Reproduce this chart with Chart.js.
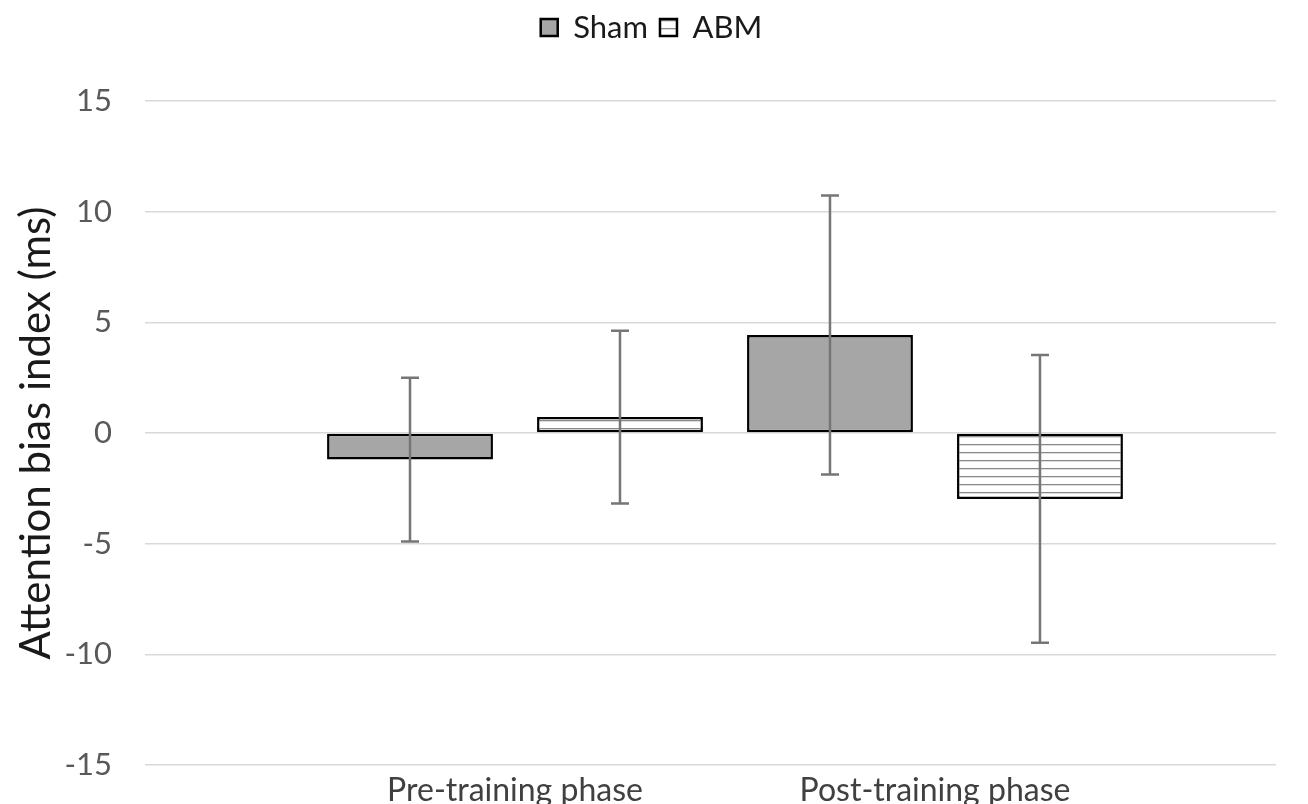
<!DOCTYPE html>
<html><head><meta charset="utf-8">
<script src="https://cdn.jsdelivr.net/npm/chart.js@4/dist/chart.umd.min.js"></script>
<style>html,body{margin:0;padding:0;background:#fff}#wrap{width:1308px;height:804px}</style>
</head><body><div id="wrap"><canvas id="c" width="1308" height="804"></canvas></div>
<script>
const categories = ['Pre-training phase', 'Post-training phase'];
const categoryPositions = [1, 2];
const shamMeans = [-1.2, 4.43];
const shamErrors = [3.7, 6.3];
const abmMeans = [0.72, -2.98];
const abmErrors = [3.9, 6.5];
const yTicks = [-15, -10, -5, 0, 5, 10, 15];

const FONT = 'Lato';

function hatchPattern() {
  const p = document.createElement('canvas');
  p.width = 8; p.height = 8;
  const g = p.getContext('2d');
  g.fillStyle = '#ffffff'; g.fillRect(0, 0, 8, 8);
  g.fillStyle = '#8a8a8a'; g.fillRect(0, 4, 8, 1.3);
  return g.createPattern(p, 'repeat');
}

const errorBarPlugin = {
  id: 'errorBars',
  afterDatasetsDraw(chart) {
    const y = chart.scales.y;
    const c = chart.ctx;
    c.save();
    c.strokeStyle = '#767676';
    c.lineWidth = 2.5;
    chart.data.datasets.forEach((ds, di) => {
      const meta = chart.getDatasetMeta(di);
      meta.data.forEach((bar, i) => {
        const m = ds.data[i].y, e = ds.errors[i];
        const t = y.getPixelForValue(m + e), b = y.getPixelForValue(m - e);
        const x = bar.x;
        c.beginPath();
        c.moveTo(x, t); c.lineTo(x, b);
        c.moveTo(x - 9, t); c.lineTo(x + 9, t);
        c.moveTo(x - 9, b); c.lineTo(x + 9, b);
        c.stroke();
      });
    });
    c.restore();
  }
};

const legendPlugin = {
  id: 'legendAdjust',
  beforeLayout(chart) {
    const lg = chart.legend;
    if (lg && !lg._patched) {
      const f = lg.fit;
      lg.fit = function () { f.call(this); this.height = 101; };
      const d = lg.draw;
      lg.draw = function () {
        const c = this.ctx;
        c.save(); c.translate(8, 0); d.apply(this, arguments); c.restore();
      };
      lg._patched = true;
    }
  }
};

const ctx = document.getElementById('c').getContext('2d');
new Chart(ctx, {
  type: 'bar',
  data: {
    datasets: [
      {
        label: 'Sham',
        data: categoryPositions.map((x, i) => ({ x, y: shamMeans[i] })),
        errors: shamErrors,
        backgroundColor: '#a6a6a6',
        borderColor: '#000000',
        borderWidth: 2.5,
        borderSkipped: false,
        categoryPercentage: 1,
        barPercentage: 0.79
      },
      {
        label: 'ABM',
        data: categoryPositions.map((x, i) => ({ x, y: abmMeans[i] })),
        errors: abmErrors,
        backgroundColor: hatchPattern(),
        borderColor: '#000000',
        borderWidth: 2.5,
        borderSkipped: false,
        categoryPercentage: 1,
        barPercentage: 0.79
      }
    ]
  },
  options: {
    responsive: false,
    animation: false,
    layout: { padding: { left: 11, right: 32, top: 0, bottom: 0 } },
    scales: {
      x: {
        type: 'linear',
        offset: false,
        bounds: 'data',
        min: 0.119,
        max: 2.812,
        afterBuildTicks: s => { s.ticks = categoryPositions.map(v => ({ value: v })); },
        afterFit: s => { s.height = 39; },
        ticks: {
          autoSkip: false,
          maxRotation: 0,
          padding: -2,
          color: '#404040',
          font: { family: FONT, size: 32 },
          callback: v => categories[categoryPositions.indexOf(v)]
        },
        grid: { display: false },
        border: { display: false }
      },
      y: {
        min: -15,
        max: 15,
        afterBuildTicks: s => { s.ticks = yTicks.map(v => ({ value: v })); },
        afterFit: s => { s.width = 134; },
        ticks: {
          padding: 3,
          color: '#595959',
          font: { family: FONT, size: 31 }
        },
        grid: { color: '#d9d9d9', lineWidth: 1.5, drawTicks: true, tickLength: 30, tickColor: 'rgba(0,0,0,0)' },
        border: { display: false },
        title: {
          display: true,
          text: 'Attention bias index (ms)',
          color: '#1a1a1a',
          padding: 0,
          font: { family: FONT, size: 42 }
        }
      }
    },
    plugins: {
      legend: {
        labels: {
          boxWidth: 17,
          boxHeight: 17,
          padding: 12,
          color: '#1a1a1a',
          font: { family: FONT, size: 31 }
        }
      },
      tooltip: { enabled: false }
    }
  },
  plugins: [errorBarPlugin, legendPlugin]
});
</script>
</body></html>
